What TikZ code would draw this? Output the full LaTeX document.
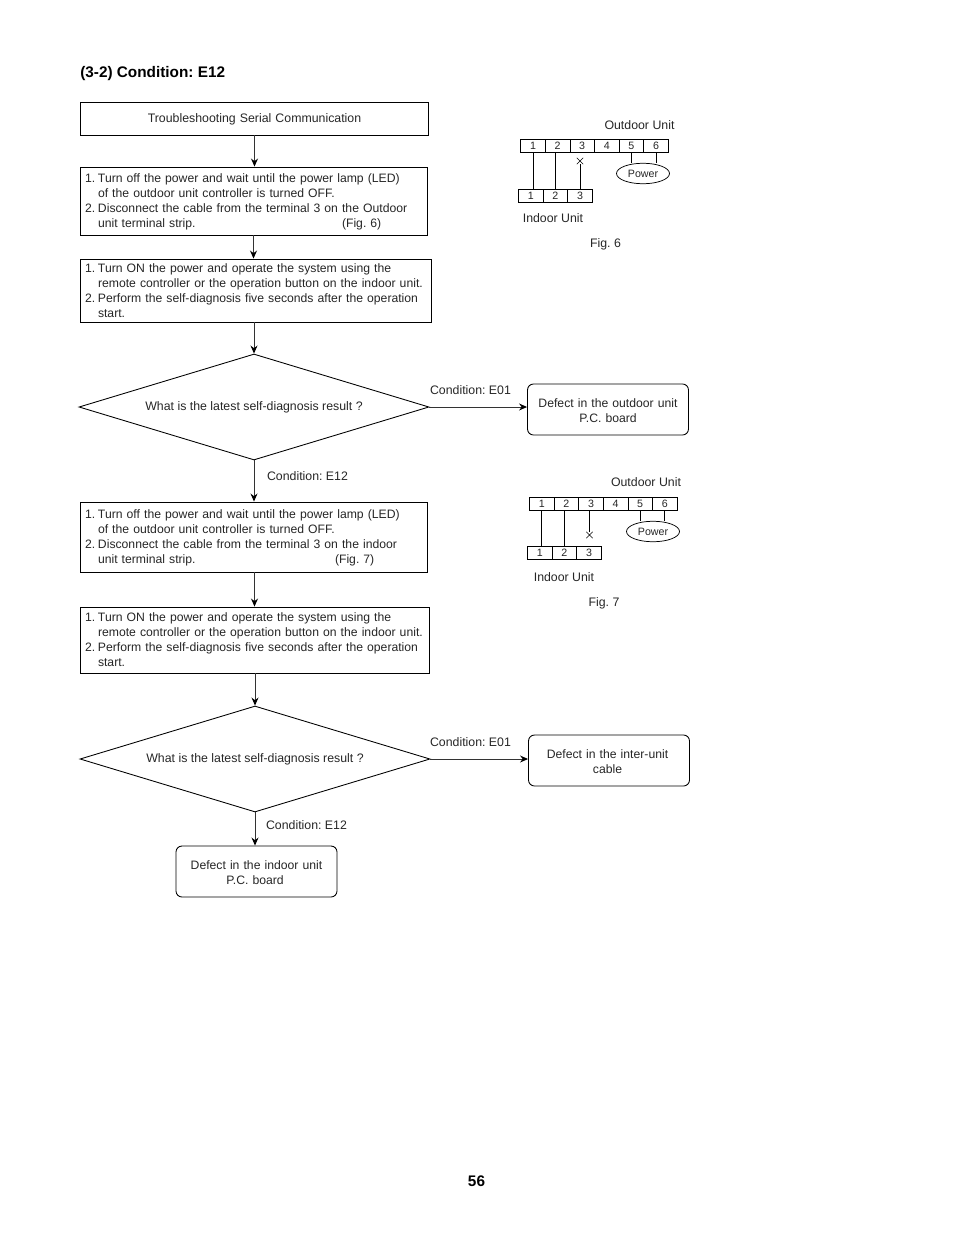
\documentclass[tikz,border=0pt]{standalone}
\usepackage{fontspec}
\setmainfont{Liberation Sans}
\usetikzlibrary{arrows.meta,shapes.geometric,shapes.misc}
\newcommand{\px}{.75pt}
\newcommand{\num}[1]{\makebox[9.75pt][l]{#1}}
\newcommand{\ind}{\hspace*{9.75pt}}
\newcommand{\pad}{\hspace*{2.2pt}}
\tikzset{
  every node/.style={font=\fontsize{9.25}{11.25}\selectfont\frenchspacing,text=black!85},
  box/.style={draw,line width=.65pt,minimum height=#1*\px,inner xsep=3.75pt,inner ysep=1pt,align=left,font=\fontsize{9.15}{11.25}\selectfont\frenchspacing,execute at begin node=\rule{0pt}{8.6pt}},
  lift/.style={execute at begin node=,execute at end node=\rule[-#1]{0pt}{#1}},
  roundbox/.style={draw,line width=.65pt,rounded corners=4.5pt,minimum width=161*\px,minimum height=51*\px,text width=150*\px,align=center,inner xsep=5.5*\px,inner ysep=0pt,font=\fontsize{9.15}{11.25}\selectfont\frenchspacing,execute at begin node=\rule{0pt}{8.2pt}},
  ask/.style={draw,diamond,line width=.65pt,aspect=3.3,inner sep=0pt,minimum width=350*\px,minimum height=106*\px},
  cell/.style={draw,line width=.55pt,minimum width=24.6*\px,minimum height=13*\px,inner sep=0pt,font=\fontsize{8}{9}\selectfont},
  power/.style={draw,ellipse,line width=.55pt,minimum width=53*\px,minimum height=20.5*\px,inner sep=0pt,font=\fontsize{8}{9}\selectfont},
  cut/.style={cross out,draw,line width=.3pt,minimum size=6*\px,inner sep=0pt},
  wire/.style={line width=.65pt},
  go/.style={-{Stealth[length=6pt,width=5.2pt,color=black]},line width=.75pt,black!80}
}
\begin{document}
\begin{tikzpicture}[x=.75pt,y=-.75pt]
\useasboundingbox (0,0) rectangle (954,1235);
\node[anchor=base west,inner sep=0pt,font=\fontsize{11.5}{13}\selectfont\bfseries\frenchspacing,text=black] (title) at (80,77) {(3-2) Condition: E12};
\node[anchor=base,inner sep=0pt,font=\fontsize{11.5}{13}\selectfont\bfseries,text=black] (page) at (476.5,1186) {56};
\node[box=33,text width=254pt,align=center,font=\fontsize{9.25}{11.25}\selectfont] (start) at (254.5,118.5) {Troubleshooting Serial Communication};
\node[box=68,text width=252.75pt] (off1) at (253.5,201) {\num{1.}Turn off the power and wait until the power lamp (LED)\\
\ind of the outdoor unit controller is turned OFF.\\
\num{2.}\mbox{Disconnect the cable from the terminal 3 on the Outdoor}\\
\ind\makebox[183pt][l]{unit terminal strip.}(Fig. 6)};
\node[box=63,lift=1.15pt,text width=255.75pt] (on1) at (255.5,290.5) {\num{1.}Turn ON the power and operate the system using the\\
\ind\mbox{remote controller or the operation button on the indoor unit.}\\
\num{2.}\mbox{Perform the self-diagnosis five seconds after the operation}\\
\ind start.};
\node[ask] (ask1) at (254,407) {What is the latest self-diagnosis result ?};
\node[box=70,text width=252.75pt] (off2) at (253.5,537) {\num{1.}Turn off the power and wait until the power lamp (LED)\\
\ind of the outdoor unit controller is turned OFF.\\
\num{2.}\mbox{Disconnect the cable from the terminal 3 on the indoor}\\
\ind\makebox[177.75pt][l]{unit terminal strip.}(Fig. 7)};
\node[box=66,lift=2.65pt,text width=254.25pt] (on2) at (254.5,640) {\num{1.}Turn ON the power and operate the system using the\\
\ind\mbox{remote controller or the operation button on the indoor unit.}\\
\num{2.}\mbox{Perform the self-diagnosis five seconds after the operation}\\
\ind start.};
\node[ask] (ask2) at (255,759) {What is the latest self-diagnosis result ?};
\node[roundbox] (indoor) at (256.5,871.5) {Defect in the indoor unit\pad\\P.C. board\pad};
\node[roundbox] (outdoor) at (608,409.5) {Defect in the outdoor unit\\P.C. board};
\node[roundbox] (cable) at (609,760.5) {Defect in the inter-unit\pad\pad\\cable\pad};
\draw[go] (start.south) -- (start.south |- off1.north);
\draw[go] (off1.south) -- (off1.south |- on1.north);
\draw[go] (ask1.north |- on1.south) -- (ask1.north);
\draw[go] (ask1.south) -- (ask1.south |- off2.north);
\draw[go] (off2.south -| on2.north) -- (on2.north);
\draw[go] (ask2.north |- on2.south) -- (ask2.north);
\draw[go] (ask2.south) -- (ask2.south |- indoor.north);
\draw[go] (ask1.east) -- (ask1.east -| outdoor.west);
\draw[go] (ask2.east) -- (ask2.east -| cable.west);
\node (e01a) at (470.5,390) {Condition: E01};
\node (e12a) at (307.5,476) {Condition: E12};
\node (e01b) at (470.5,742) {Condition: E01};
\node (e12b) at (306.5,825) {Condition: E12};
% Fig. 6
\foreach \i in {1,...,6} \node[cell] (o\i) at ({520.7+(\i-.5)*24.6},146) {\i};
\foreach \i in {1,2,3} \node[cell] (n\i) at ({518.5+(\i-.5)*24.6},196) {\i};
\node[power] (pw) at (643,173.5) {Power};
\node[cut] (x) at (580,161) {};
\draw[wire] (o1.south) -- (o1.south |- n1.north);
\draw[wire] (n2.north) -- (n2.north |- o2.south);
\draw[wire] (x.south |- n3.north) -- (x.south);
\draw[wire] (pw.north -| o5.south) -- (o5.south);
\draw[wire] (pw.north -| o6.south) -- (o6.south);
\node (outa) at (639.5,125) {Outdoor Unit};
\node (ina) at (553,218) {Indoor Unit};
\node (figa) at (605.5,244) {Fig. 6};
% Fig. 7
\foreach \i in {1,...,6} \node[cell] (p\i) at ({529.5+(\i-.5)*24.6},504) {\i};
\foreach \i in {1,2,3} \node[cell] (q\i) at ({527.5+(\i-.5)*24.6},553) {\i};
\node[power] (pwb) at (653,531.5) {Power};
\node[cut] (y) at (589.5,535) {};
\draw[wire] (p1.south) -- (p1.south |- q1.north);
\draw[wire] (q2.north) -- (q2.north |- p2.south);
\draw[wire] (p3.south -| y.north) -- (y.north);
\draw[wire] (pwb.north -| p5.south) -- (p5.south);
\draw[wire] (pwb.north -| p6.south) -- (p6.south);
\node (outb) at (646,482) {Outdoor Unit};
\node (inb) at (564,577) {Indoor Unit};
\node (figb) at (604,603) {Fig. 7};
\end{tikzpicture}
\end{document}
